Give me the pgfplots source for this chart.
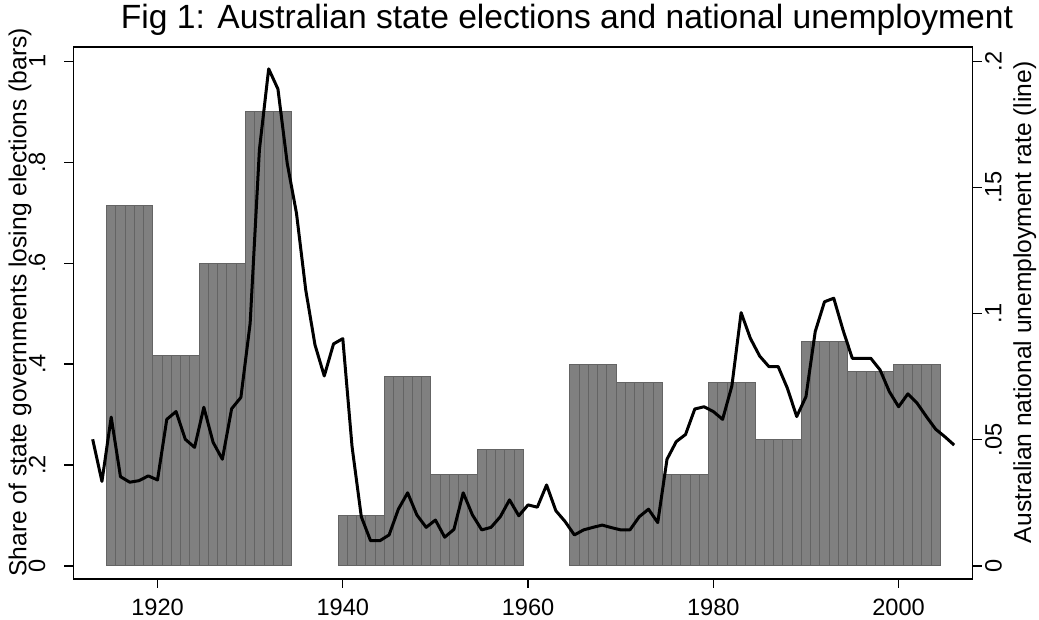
\documentclass[border=0pt]{standalone}
\usepackage{pgfplots}
\pgfplotsset{compat=1.18}
\usepackage{pgfplotstable}
\usepackage{fontspec}
\setmainfont{Liberation Sans}
\definecolor{barfill}{RGB}{128,128,128}
\definecolor{baredge}{RGB}{100,100,100}

% share of state governments losing elections, by year (5-year periods)
\pgfplotstableread{
year share
1915 0.7143
1916 0.7143
1917 0.7143
1918 0.7143
1919 0.7143
1920 0.4167
1921 0.4167
1922 0.4167
1923 0.4167
1924 0.4167
1925 0.6
1926 0.6
1927 0.6
1928 0.6
1929 0.6
1930 0.9
1931 0.9
1932 0.9
1933 0.9
1934 0.9
1940 0.1
1941 0.1
1942 0.1
1943 0.1
1944 0.1
1945 0.375
1946 0.375
1947 0.375
1948 0.375
1949 0.375
1950 0.1818
1951 0.1818
1952 0.1818
1953 0.1818
1954 0.1818
1955 0.2308
1956 0.2308
1957 0.2308
1958 0.2308
1959 0.2308
1965 0.4
1966 0.4
1967 0.4
1968 0.4
1969 0.4
1970 0.3636
1971 0.3636
1972 0.3636
1973 0.3636
1974 0.3636
1975 0.1818
1976 0.1818
1977 0.1818
1978 0.1818
1979 0.1818
1980 0.3636
1981 0.3636
1982 0.3636
1983 0.3636
1984 0.3636
1985 0.25
1986 0.25
1987 0.25
1988 0.25
1989 0.25
1990 0.4444
1991 0.4444
1992 0.4444
1993 0.4444
1994 0.4444
1995 0.3846
1996 0.3846
1997 0.3846
1998 0.3846
1999 0.3846
2000 0.4
2001 0.4
2002 0.4
2003 0.4
2004 0.4
}\shares

% national unemployment rate
\pgfplotstableread{
year rate
1913 0.0502
1914 0.0335
1915 0.0590
1916 0.0354
1917 0.0332
1918 0.0338
1919 0.0357
1920 0.0341
1921 0.0581
1922 0.0612
1923 0.0502
1924 0.0470
1925 0.0629
1926 0.0490
1927 0.0423
1928 0.0623
1929 0.0668
1930 0.0962
1931 0.1650
1932 0.1970
1933 0.1890
1934 0.1596
1935 0.1398
1936 0.1094
1937 0.0876
1938 0.0753
1939 0.0880
1940 0.0901
1941 0.0473
1942 0.0195
1943 0.0100
1944 0.0100
1945 0.0123
1946 0.0225
1947 0.0290
1948 0.0202
1949 0.0153
1950 0.0182
1951 0.0114
1952 0.0145
1953 0.0290
1954 0.0202
1955 0.0143
1956 0.0153
1957 0.0195
1958 0.0262
1959 0.0199
1960 0.0242
1961 0.0233
1962 0.0321
1963 0.0219
1964 0.0176
1965 0.0123
1966 0.0143
1967 0.0153
1968 0.0162
1969 0.0152
1970 0.0143
1971 0.0143
1972 0.0195
1973 0.0225
1974 0.0172
1975 0.0423
1976 0.0493
1977 0.0521
1978 0.0622
1979 0.0631
1980 0.0612
1981 0.0581
1982 0.0713
1983 0.1004
1984 0.0902
1985 0.0832
1986 0.0790
1987 0.0790
1988 0.0704
1989 0.0592
1990 0.0671
1991 0.0929
1992 0.1047
1993 0.1061
1994 0.0935
1995 0.0823
1996 0.0823
1997 0.0823
1998 0.0777
1999 0.0691
2000 0.0631
2001 0.0682
2002 0.0645
2003 0.0592
2004 0.0542
2005 0.0512
2006 0.0479
}\unemp

\pgfplotsset{
  stata/.style={
    scale only axis,
    width=449.5pt, height=266pt,
    at={(0,0)}, anchor=south west,
    xmin=1910.93, xmax=2007.98,
    tick align=outside,
    major tick length=4.5pt,
    every tick/.style={black, line width=0.6pt},
    /pgf/number format/assume math mode=true,
    /pgf/number format/1000 sep={},
    tick label style={font=\fontsize{11.8}{14}\selectfont, inner sep=0pt},
    label style={font=\fontsize{12.3}{14}\selectfont},
  }
}

\begin{document}
\begin{tikzpicture}
\begin{axis}[stata,
  axis line style={line width=0.8pt},
  ymin=-0.0258, ymax=1.0283,
  xtick={1920,1940,1960,1980,2000},
  xticklabel style={anchor=north},
  xticklabel shift=5.5pt,
  ytick={0,0.2,0.4,0.6,0.8,1},
  yticklabels={0,.2,.4,.6,.8,1},
  yticklabel style={rotate=90, anchor=south},
  yticklabel shift=9.4pt,
  xtick pos=bottom, ytick pos=left,
  ylabel={Share of state governments losing elections (bars)},
  ylabel style={at={(axis description cs:-0.0525,0.52)}, anchor=base},
]
\addplot[ybar, bar width=1, bar shift=0pt, fill=barfill, draw=baredge, line width=0.5pt]
  table[x=year, y=share] {\shares};
\end{axis}
\begin{axis}[stata,
  axis x line=none,
  axis y line*=right,
  axis line style={line width=0.8pt},
  ymin=-0.00516, ymax=0.20566,
  ytick={0,0.05,0.1,0.15,0.2},
  yticklabels={0,.05,.1,.15,.2},
  yticklabel style={rotate=90, anchor=north},
  yticklabel shift=1.6pt,
  ylabel={Australian national unemployment rate (line)},
  ylabel style={at={(axis description cs:1.0651,0.52)}, anchor=base},
]
\addplot[black, line width=1.5pt, line join=round] table[x=year, y=rate] {\unemp};
\end{axis}
\node[anchor=base, font=\fontsize{16.8}{20}\selectfont] at (246.75pt,275pt)
  {Fig 1: Australian state elections and national unemployment};
\pgfresetboundingbox
\path[use as bounding box] (-36.75pt,-20.5pt) rectangle (482.75pt,289.5pt);
\end{tikzpicture}
\end{document}
